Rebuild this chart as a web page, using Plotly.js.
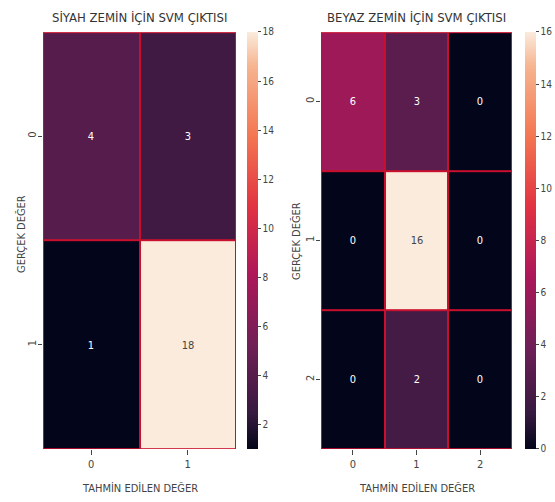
<!DOCTYPE html>
<html>
<head>
<meta charset="utf-8">
<script src="https://cdn.plot.ly/plotly-3.0.1.min.js"></script>
<style>html,body{margin:0;padding:0;background:#fff;}#chart{width:555px;height:502px;}</style>
</head>
<body>
<div id="chart"></div>
<script>
// Data
const leftTitle = "SİYAH ZEMİN İÇİN SVM ÇIKTISI";
const rightTitle = "BEYAZ ZEMİN İÇİN SVM ÇIKTISI";
const leftLabels = ["0", "1"];
const rightLabels = ["0", "1", "2"];
const leftMatrix = [[4, 3], [1, 18]];
const rightMatrix = [[6, 3, 0], [0, 16, 0], [0, 2, 0]];
const xTitle = "TAHMİN EDİLEN DEĞER";
const yTitle = "GERÇEK DEĞER";

const rocket = [
  [0, '#03051a'], [0.083, '#35193e'], [0.25, '#701f57'], [0.417, '#ad1759'],
  [0.583, '#e13342'], [0.75, '#f37651'], [0.917, '#f6b48f'], [1, '#faebdd']
];
const FONT = "DejaVu Sans Condensed, DejaVu Sans, sans-serif";
const txt = '#444';

function minOf(m){return Math.min(...m.flat());}
function maxOf(m){return Math.max(...m.flat());}

const cbCommon = {
  thickness: 11, len: 0.83, lenmode: 'fraction', y: 0.521, yanchor: 'middle',
  xanchor: 'left', xpad: 0, ypad: 0, outlinewidth: 0,
  ticks: 'outside', ticklen: 3, tickcolor: txt, tickwidth: 1,
  tickfont: {family: FONT, size: 10, color: txt}, dtick: 2
};

const traces = [
  {
    type: 'heatmap', z: leftMatrix, x: leftLabels, y: leftLabels,
    xaxis: 'x', yaxis: 'y', colorscale: rocket,
    zmin: minOf(leftMatrix), zmax: maxOf(leftMatrix),
    xgap: 2, ygap: 2, texttemplate: '%{z}',
    textfont: {family: FONT, size: 11},
    hoverinfo: 'skip',
    colorbar: Object.assign({}, cbCommon, {x: 247/555, tick0: 2})
  },
  {
    type: 'heatmap', z: rightMatrix, x: rightLabels, y: rightLabels,
    xaxis: 'x2', yaxis: 'y2', colorscale: rocket,
    zmin: minOf(rightMatrix), zmax: maxOf(rightMatrix),
    xgap: 2, ygap: 2, texttemplate: '%{z}',
    textfont: {family: FONT, size: 11},
    hoverinfo: 'skip',
    colorbar: Object.assign({}, cbCommon, {x: 525/555, tick0: 0})
  }
];

function xax(dom, anchor){
  return {
    domain: dom, anchor: anchor, type: 'category',
    ticks: 'outside', ticklen: 5, tickcolor: txt,
    tickfont: {family: FONT, size: 11, color: txt},
    showgrid: false, zeroline: false, showline: false
  };
}
function yax(anchor){
  return {
    domain: [0.1056, 0.936], anchor: anchor, type: 'category', autorange: 'reversed',
    ticks: 'outside', ticklen: 4, tickcolor: txt, tickangle: -90,
    ticklabelstandoff: -2,
    tickfont: {family: FONT, size: 11, color: txt},
    showgrid: false, zeroline: false, showline: false
  };
}

function ann(text, xpx, ypx, size, angle, color){
  return {text: text, xref: 'paper', yref: 'paper', x: xpx/555, y: 1 - ypx/502,
    showarrow: false, xanchor: 'center', yanchor: 'middle', textangle: angle || 0,
    font: {family: FONT, size: size, color: color}};
}

const layout = {
  width: 555, height: 502,
  margin: {l: 0, r: 0, t: 0, b: 0},
  paper_bgcolor: '#fff', plot_bgcolor: '#c8102e',
  showlegend: false,
  xaxis: xax([43/555, 236/555], 'y'),
  yaxis: yax('x'),
  xaxis2: xax([321/555, 512/555], 'y2'),
  yaxis2: yax('x2'),
  annotations: [
    ann(leftTitle, (43+236)/2, 18, 13, 0, '#333'),
    ann(rightTitle, (321+512)/2, 18, 13, 0, '#333'),
    ann(xTitle, (43+236)/2, 488, 11, 0, txt),
    ann(xTitle, (321+512)/2, 488, 11, 0, txt),
    ann(yTitle, 21, 234, 11, -90, txt),
    ann(yTitle, 296, 241, 11, -90, txt)
  ]
};

Plotly.newPlot('chart', traces, layout, {staticPlot: true, displayModeBar: false});
</script>
</body>
</html>
